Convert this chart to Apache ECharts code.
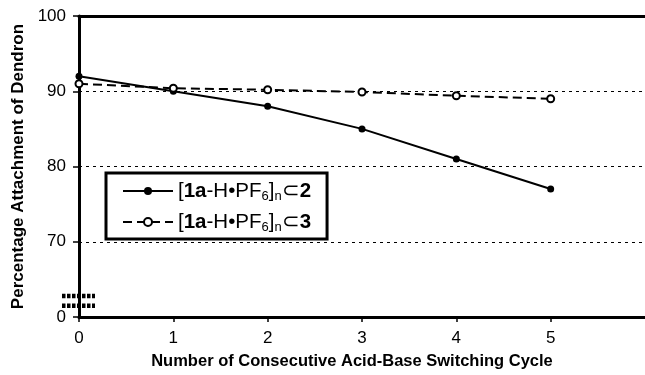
<!DOCTYPE html>
<html lang="en">
<head>
    <meta charset="UTF-8">
    <title>Dendron attachment</title>
    <script src="https://cdn.jsdelivr.net/npm/echarts@6/dist/echarts.min.js"></script>
</head>
<body style="margin:0">
<div id="main" style="width: 645px;height: 375px;"></div>
<script>
    // switching cycles
    var cycles = [0, 1, 2, 3, 4, 5]
    // [1a-H•PF6]n⊂2
    var series2 = [92, 90, 88, 85, 81, 77]
    // [1a-H•PF6]n⊂3
    var series3 = [91, 90.4, 90.2, 89.9, 89.4, 89.0]
    var xTicks = [0, 1, 2, 3, 4, 5]
    var yTicks = [60, 70, 80, 90, 100] // 60 is drawn as "0" (broken axis)
    var breakLevels = [62.8, 61.5]

    function pairs(ys) {
        return cycles.map(function (c, i) { return [c, ys[i]] })
    }

    var font = 'Liberation Sans, Arial, sans-serif'
    var rich = {
        b: {fontFamily: font, fontSize: 20.5, fontWeight: 'bold', color: '#000'},
        t: {fontFamily: font, fontSize: 20.5, color: '#000'},
        s: {fontFamily: font, fontSize: 13, color: '#000', padding: [11, 0, 0, 0]}
    }

    var mCharts = echarts.init(document.getElementById('main'))
    var option = {
        animation: false,
        backgroundColor: '#fff',
        grid: {left: 79, top: 16, right: 0, bottom: 57},
        legend: {
            left: 106, top: 173,
            orient: 'vertical',
            padding: [7, 16, 5, 16],
            itemGap: 8,
            itemWidth: 50, itemHeight: 10,
            borderColor: '#000', borderWidth: 3,
            data: ['s2', 's3'],
            formatter: function (name) {
                var last = name === 's2' ? '2' : '3'
                return '{t|[}{b|1a}{t|-H•PF}{s|6}{t|]}{s|n}{t|⊂}{b|' + last + '}'
            },
            textStyle: {rich: rich, fontSize: 20.5, lineHeight: 22}
        },
        xAxis: [{
            type: 'value', min: 0, max: 6, interval: 1,
            name: 'Number of Consecutive Acid-Base Switching Cycle',
            nameLocation: 'middle', nameGap: 36,
            nameTextStyle: {fontFamily: font, fontSize: 16.5, fontWeight: 'bold', color: '#000', padding: [0, 20, 0, 0]},
            axisLine: {lineStyle: {color: '#000', width: 3}},
            axisTick: {show: true, length: 5, lineStyle: {color: '#000', width: 1.5},
                customValues: xTicks},
            axisLabel: {fontFamily: font, fontSize: 17, color: '#000', margin: 13,
                customValues: xTicks},
            splitLine: {show: false}
        }, {
            type: 'value', min: 0, max: 6, position: 'top',
            axisLine: {show: true, lineStyle: {color: '#000', width: 3}},
            axisTick: {show: false}, axisLabel: {show: false}, splitLine: {show: false}
        }],
        yAxis: {
            type: 'value', min: 60, max: 100, interval: 10,
            name: 'Percentage Attachment of Dendron',
            nameLocation: 'middle', nameGap: 52,
            nameTextStyle: {fontFamily: font, fontSize: 17, fontWeight: 'bold', color: '#000'},
            axisLine: {show: true, lineStyle: {color: '#000', width: 3}},
            axisTick: {show: true, length: 6, lineStyle: {color: '#000', width: 1.5}},
            axisLabel: {fontFamily: font, fontSize: 17, color: '#000', margin: 13,
                formatter: function (v) { return v === 60 ? '0' : String(v) }},
            splitLine: {show: true, lineStyle: {color: '#000', width: 1, type: [3, 4]}}
        },
        series: [{
            name: 's2', type: 'line', data: pairs(series2),
            symbol: 'circle', symbolSize: 7,
            itemStyle: {color: '#000'},
            lineStyle: {color: '#000', width: 2}
        }, {
            name: 's3', type: 'line', data: pairs(series3),
            symbol: 'circle', symbolSize: 7, showAllSymbol: true,
            itemStyle: {color: '#fff', borderColor: '#000', borderWidth: 2},
            lineStyle: {color: '#000', width: 2, type: [9, 5]}
        }]
    }
    mCharts.setOption(option)

    // axis break marks
    var x0 = mCharts.convertToPixel({xAxisIndex: 0}, 0)
    var marks = breakLevels.map(function (lv) {
        var y = mCharts.convertToPixel({yAxisIndex: 0}, lv)
        return {
            type: 'line', z: 100,
            shape: {x1: x0 - 17, y1: y, x2: x0 + 16, y2: y},
            style: {stroke: '#000', lineWidth: 4.5, lineDash: [3.5, 1.5], lineCap: 'butt'}
        }
    })
    mCharts.setOption({graphic: marks})
</script>
</body>
</html>
